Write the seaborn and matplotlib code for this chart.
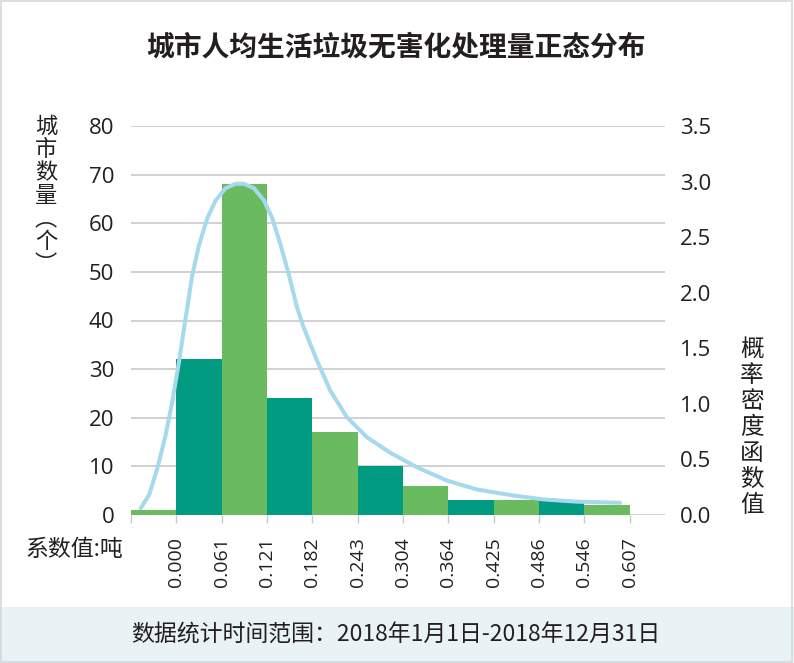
import matplotlib
matplotlib.use("Agg")
import matplotlib.pyplot as plt
import seaborn as sns
import numpy as np
import pandas as pd

# ---------------- data ----------------
bin_edges = [-0.0607, 0.000, 0.0607, 0.1214, 0.1821, 0.2428, 0.3035, 0.3642, 0.4249, 0.4856, 0.5463, 0.607]
edge_labels = ["", "0.000", "0.061", "0.121", "0.182", "0.243", "0.304", "0.364", "0.425", "0.486", "0.546", "0.607"]
city_counts = [1, 32, 68, 24, 17, 10, 6, 3, 3, 3, 2]
bar_group = ["light", "dark", "light", "dark", "light", "dark", "light", "dark", "light", "dark", "light"]

curve_x = [-0.0478, -0.0365, -0.0254, -0.0143, -0.0054, 0.0036, 0.0124, 0.0214, 0.0304, 0.0415,
           0.0526, 0.0660, 0.0794, 0.0906, 0.1040, 0.1174, 0.1285, 0.1396, 0.1508, 0.1619,
           0.1704, 0.1883, 0.2061, 0.2285, 0.2552, 0.2864, 0.3221, 0.3623, 0.4024, 0.4470,
           0.4916, 0.5362, 0.5942]
curve_y = [0.06, 0.18, 0.42, 0.72, 1.02, 1.38, 1.77, 2.16, 2.43, 2.67,
           2.83, 2.94, 2.98, 2.98, 2.94, 2.83, 2.67, 2.43, 2.16, 1.86,
           1.69, 1.39, 1.12, 0.88, 0.70, 0.56, 0.43, 0.31, 0.23, 0.18,
           0.14, 0.12, 0.11]

left_ticks = [0, 10, 20, 30, 40, 50, 60, 70, 80]
right_ticks = [0.0, 0.5, 1.0, 1.5, 2.0, 2.5, 3.0, 3.5]

title = "城市人均生活垃圾无害化处理量正态分布"
left_label_chars = ["城", "市", "数", "量", "︵", "个", "︶"]
right_label = "概率密度函数值"
x_note = "系数值:吨"
footer = "数据统计时间范围：2018年1月1日-2018年12月31日"

# ---------------- style ----------------
sns.set_theme(style="white")
plt.rcParams['font.family'] = ['Noto Sans CJK SC', 'DejaVu Sans']
NUM_FONT = ['Open Sans', 'DejaVu Sans']

DARK = "#009b80"
LIGHT = "#6aba5f"
CURVE = "#a6d8ee"
GRID = "#c9c9c9"
TXT = "#231f20"

W, H = 794, 663
fig = plt.figure(figsize=(W / 100, H / 100), dpi=100)

# footer band and frame
fig.patches.append(plt.Rectangle((0, 0), 1, 56 / H, transform=fig.transFigure,
                                 facecolor="#e9f2f5", edgecolor="none", zorder=0))
fig.patches.append(plt.Rectangle((0.001, 0.001), 0.997, 0.997, transform=fig.transFigure,
                                 facecolor="none", edgecolor="#d8d8d8", lw=1.2, zorder=0))

ax_left, ax_right, ax_bot, ax_top = 131, 665, 515, 126
ax = fig.add_axes([ax_left / W, 1 - ax_bot / H, (ax_right - ax_left) / W, (ax_bot - ax_top) / H])

centers = [(bin_edges[i] + bin_edges[i + 1]) / 2 for i in range(len(city_counts))]
df = pd.DataFrame({"x": centers, "count": city_counts, "group": bar_group})
sns.histplot(data=df, x="x", weights="count", bins=bin_edges, hue="group",
             palette={"dark": DARK, "light": LIGHT}, multiple="layer", alpha=1,
             linewidth=0, legend=False, ax=ax, zorder=2)

ax.set_xlim(-0.0607, (ax_right - 176) / 747.2)
ax.set_ylim(0, 80)
ax.set_yticks(left_ticks)
ax.set_yticklabels([str(v) for v in left_ticks], fontsize=16, color=TXT, family=NUM_FONT)
ax.set_xticks(bin_edges)
ax.set_xticklabels(edge_labels, rotation=90, fontsize=14, color=TXT, family=NUM_FONT)
ax.tick_params(axis="x", length=6, width=1, color=GRID, pad=10, direction="out", bottom=True)
ax.tick_params(axis="y", length=0, pad=12)
ax.grid(axis="y", color=GRID, linewidth=1.2)
ax.set_axisbelow(True)
for s in ax.spines.values():
    s.set_visible(False)
ax.set_xlabel("")
ax.set_ylabel("")

ax2 = ax.twinx()
sns.lineplot(x=curve_x, y=curve_y, ax=ax2, color=CURVE, linewidth=2.9)
ax2.set_ylim(0, 3.5)
ax2.set_yticks(right_ticks)
ax2.set_yticklabels([f"{v:.1f}" for v in right_ticks], fontsize=16, color=TXT, family=NUM_FONT)
ax2.tick_params(axis="y", length=0, pad=11)
ax2.grid(False)
for s in ax2.spines.values():
    s.set_visible(False)

# texts
fig.text(396 / W, 1 - 47 / H, title, ha="center", va="center", fontsize=20,
         fontweight="bold", color=TXT)
fig.text(46 / W, 1 - 115 / H, "\n".join(left_label_chars),
         ha="center", va="top", fontsize=16, color=TXT, linespacing=1.0)
fig.text(752 / W, 1 - 338 / H, "\n".join(list(right_label)),
         ha="center", va="top", fontsize=17, color=TXT, linespacing=1.17)
fig.text(25 / W, 1 - 550 / H, x_note, ha="left", va="center", fontsize=16.5, color=TXT)
fig.text(396 / W, 1 - 635 / H, footer, ha="center", va="center", fontsize=16.5, color=TXT)

fig.savefig("out.png", dpi=100)
